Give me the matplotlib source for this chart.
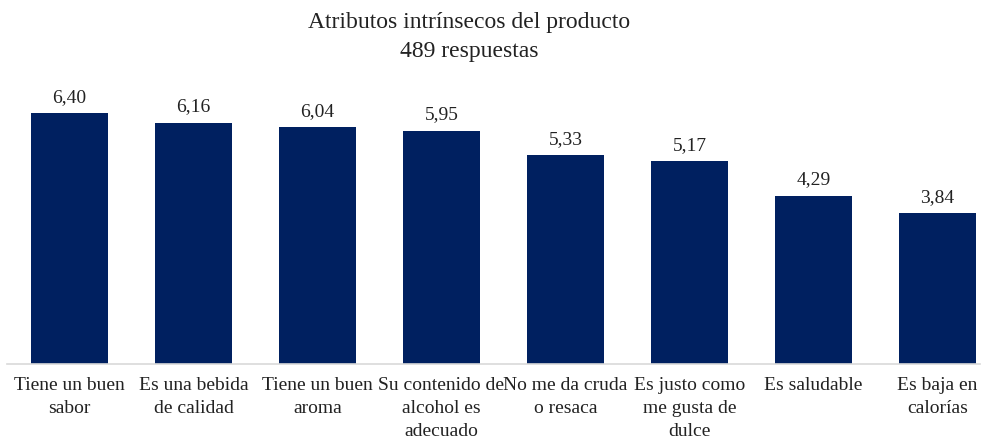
import matplotlib.pyplot as plt
import numpy as np

plt.rcParams['font.family'] = ['Liberation Serif', 'DejaVu Serif']

# Survey averages per product attribute
categories = [
    "Tiene un buen\nsabor",
    "Es una bebida\nde calidad",
    "Tiene un buen\naroma",
    "Su contenido de\nalcohol es\nadecuado",
    "No me da cruda\no resaca",
    "Es justo como\nme gusta de\ndulce",
    "Es saludable",
    "Es baja en\ncalorías",
]
scores = [6.40, 6.16, 6.04, 5.95, 5.33, 5.17, 4.29, 3.84]

fig = plt.figure(figsize=(9.87, 4.39), dpi=100)
ax = fig.add_axes([7 / 987, 74 / 439, 973 / 987, 274.4 / 439])

x = np.arange(len(categories))
bars = ax.bar(x, scores, width=0.62, color="#002060")

for bar, v in zip(bars, scores):
    ax.annotate(f"{v:.2f}".replace(".", ","),
                xy=(bar.get_x() + bar.get_width() / 2, bar.get_height()),
                xytext=(0, 6), textcoords="offset points",
                ha="center", va="bottom", fontsize=14, color="#222222")

ax.set_xlim(-0.504, 7.343)
ax.set_ylim(0, 7)
ax.set_yticks([])
ax.set_xticks(x)
ax.set_xticklabels(categories, fontsize=14, color="#222222", linespacing=1.45)
ax.tick_params(axis="x", length=0, pad=9)

for side in ["top", "right", "left"]:
    ax.spines[side].set_visible(False)
ax.spines["bottom"].set_color("#d9d9d9")
ax.spines["bottom"].set_linewidth(1.2)

fig.text(0.4753, 1 - 37 / 439, "Atributos intrínsecos del producto\n489 respuestas",
         ha="center", va="center", fontsize=17, color="#222222", linespacing=1.5)

fig.savefig("out.png", dpi=100)
